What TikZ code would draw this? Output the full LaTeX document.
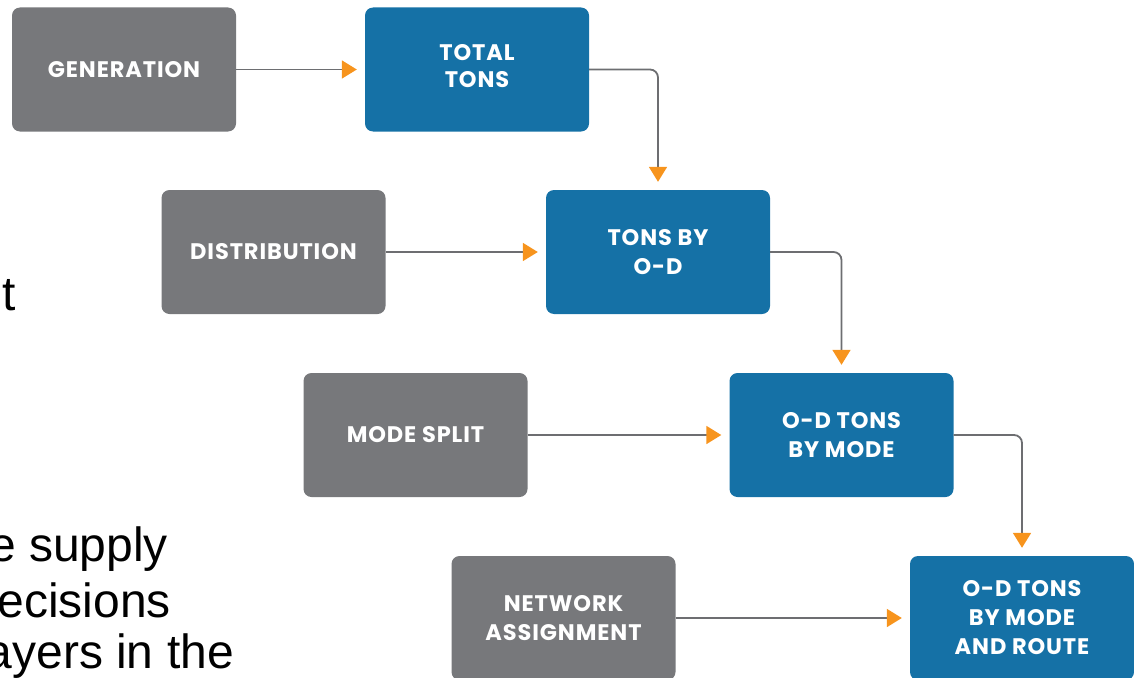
\documentclass[tikz,border=0pt]{standalone}
\usepackage{fontspec}
\setmainfont{Liberation Sans}
\newfontfamily\boxfont{Poppins}[LetterSpace=4]
\usetikzlibrary{arrows.meta}
\definecolor{stepgray}{HTML}{77787B}
\definecolor{stepblue}{HTML}{1571A6}
\definecolor{tiporange}{HTML}{F7941D}
\definecolor{linegray}{HTML}{6D6E71}
\tikzset{
  flowbox/.style={rounded corners=8pt, minimum width=224pt, minimum height=124pt,
    text=white, align=center, font=\boxfont\bfseries\fontsize{22.5}{29}\selectfont, inner sep=0pt},
  inputbox/.style={flowbox, fill=stepgray},
  resultbox/.style={flowbox, fill=stepblue},
  flowline/.style={draw=linegray, line width=1.8pt, rounded corners=8pt,
    -{Triangle[length=15pt,width=18pt,color=tiporange]}, shorten >=8pt},
  bodytext/.style={font=\fontsize{48}{53}\selectfont, inner sep=0pt, anchor=base east}
}
\begin{document}
\begin{tikzpicture}[x=1pt,y=-1pt]
\useasboundingbox (0,0) rectangle (1134,677);
\clip (0,0) rectangle (1134,677);

% slide text running behind the chart
\node[bodytext] (t1) at (16,310) {t};
\node[bodytext] (t2) at (168,561) {e supply};
\node[bodytext] (t3) at (171,617) {ecisions};
\node[bodytext] (t4) at (234,668) {ayers in the};

% model steps (grey) and their results (blue)
\node[inputbox]  (gen)  at (124,69.5)  {GENERATION};
\node[resultbox] (tot)  at (477,69.5)  {};
\node[text=white, align=center, font=\boxfont\bfseries\fontsize{22.5}{27}\selectfont, inner sep=0pt]
  (totlabel) at (477,66) {TOTAL\\TONS};
\node[inputbox]  (dist) at (273.5,252) {DISTRIBUTION};
\node[resultbox] (tod)  at (658,252)   {TONS BY\\O-D};
\node[inputbox]  (mode) at (415.5,435) {MODE SPLIT};
\node[resultbox] (odm)  at (841.5,435) {O-D TONS\\BY MODE};
\node[inputbox]  (net)  at (563.5,618) {NETWORK\\ASSIGNMENT};
\node[resultbox] (odr)  at (1022,618)  {O-D TONS\\BY MODE\\AND ROUTE};

% connectors
\draw[flowline] (gen) -- (tot);
\draw[flowline] (dist) -- (tod);
\draw[flowline] (mode) -- (odm);
\draw[flowline] (net) -- (odr);
\draw[flowline] (tot.east) -| (tod.north);
\draw[flowline] (tod.east) -| (odm.north);
\draw[flowline] (odm.east) -| (odr.north);
\end{tikzpicture}
\end{document}
